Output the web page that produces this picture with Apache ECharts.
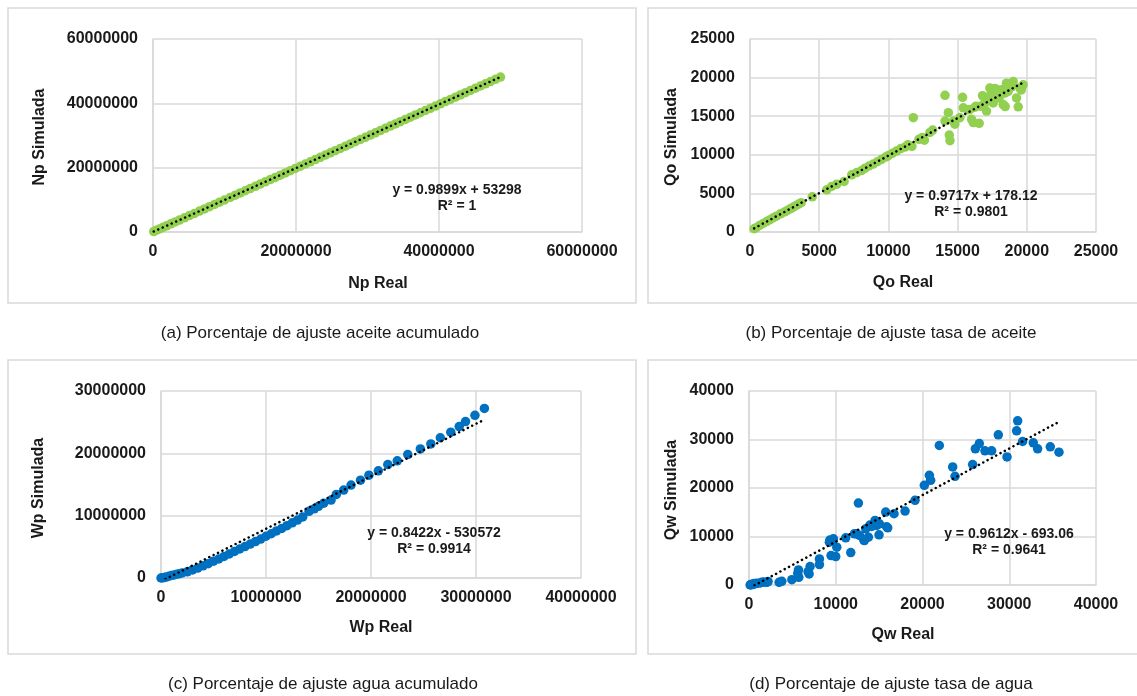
<!DOCTYPE html>
<html>
<head>
<meta charset="utf-8">
<script src="https://cdn.jsdelivr.net/npm/echarts/dist/echarts.min.js"></script>
<style>
html,body{margin:0;padding:0;background:#fff;}
#chart{width:1137px;height:696px;}
</style>
</head>
<body>
<div id="chart"></div>
<script>
// ---------- DATA ----------
// (a) Np Real vs Np Simulada
const npReal = [100000,500000,900000,1400000,1900000,2500000,3100000,3700000,4400000,5100000,
5800000,6500000,7200000,7900000,8600000,9300000,10000000,10800000,11500000,12200000,
12900000,13600000,14300000,15000000,15700000,16400000,17100000,17800000,18500000,19200000,
19900000,20600000,21300000,22000000,22700000,23400000,24100000,24800000,25500000,26200000,
26900000,27600000,28300000,29000000,29700000,30400000,31100000,31800000,32500000,33200000,
33900000,34600000,35300000,36000000,36700000,37400000,38100000,38800000,39500000,40200000,
40900000,41600000,42300000,43000000,43700000,44400000,45100000,45800000,46500000,47200000,
47900000,48600000];
const npSim = [150000,550000,940000,1440000,1930000,2530000,3120000,3720000,4410000,5100000,
5790000,6490000,7180000,7870000,8570000,9260000,9950000,10740000,11440000,12130000,
12820000,13510000,14210000,14900000,15590000,16290000,16980000,17670000,18370000,19060000,
19750000,20440000,21140000,21830000,22520000,23220000,23910000,24600000,25290000,25990000,
26680000,27370000,28070000,28760000,29450000,30140000,30840000,31530000,32220000,32920000,
33610000,34300000,34990000,35690000,36380000,37070000,37770000,38460000,39150000,39850000,
40540000,41230000,41920000,42620000,43310000,44000000,44700000,45390000,46080000,46780000,
47470000,48160000];

// (b) Qo Real vs Qo Simulada
const qoReal = [300,450,700,950,1200,1450,1700,1900,2200,2500,2700,2900,3100,3300,3500,3700,
4500,5540,5900,6270,6800,7350,7710,8070,8300,8600,8900,9200,9500,9800,10000,10300,10600,10900,
11200,11400,11700,12200,12450,12600,13000,13200,
11800,14090,14330,14090,14400,14450,14690,14800,15170,15360,15410,15890,16010,16130,16320,16560,
16660,16800,16970,17090,17330,17450,17570,17810,18000,18170,18290,18410,18530,18650,19020,19260,
19380,19500,19740,17700,18900,19600,16900,17350,18440,15780,16270];
const qoSim = [420,560,850,1100,1350,1600,1850,2050,2350,2600,2800,3000,3200,3400,3600,3800,
4550,5470,5900,6200,6550,7400,7700,7970,8250,8550,8800,9100,9400,9700,9900,10200,10500,10800,
11000,11300,11100,12000,12250,11900,12900,13200,
14810,17700,15450,14380,12550,11830,14380,13960,14810,17450,16090,15870,14600,14170,16300,14080,
16300,17660,16720,15660,18640,18000,16720,18430,17360,18430,16510,18000,19280,18210,19490,17360,
16210,18640,19060,18600,18800,18400,17500,17100,16250,15820,16160];

// (c) Wp Real vs Wp Simulada
const wpReal = [0,150000,300000,500000,750000,1000000,1250000,1500000,1750000,2000000,2500000,3000000,
3500000,4000000,4500000,5000000,5500000,6000000,6500000,7000000,7500000,8000000,8500000,9000000,
9500000,10000000,10500000,11000000,11500000,12000000,12500000,13000000,13500000,14100000,14600000,
15000000,15500000,16200000,16700000,17400000,18100000,19000000,19800000,20700000,21600000,22500000,
23500000,24700000,25700000,26600000,27600000,28400000,29000000,29900000,30800000];
const wpSim = [0,30000,80000,150000,280000,400000,500000,600000,700000,800000,1000000,1300000,
1600000,1950000,2300000,2700000,3050000,3450000,3850000,4250000,4650000,5050000,5450000,5850000,
6250000,6700000,7100000,7550000,7950000,8400000,8850000,9300000,9800000,10700000,11100000,
11500000,12000000,12500000,13400000,14100000,14900000,15700000,16500000,17200000,18200000,18800000,
19800000,20700000,21500000,22500000,23400000,24300000,25100000,26100000,27200000];

// (d) Qw Real vs Qw Simulada
const qwReal = [130,330,520,710,900,1280,1480,2050,3470,3780,4940,5740,5620,5700,6930,7040,6810,
8120,8120,9460,10000,9270,9730,10120,11150,11730,12150,12420,12730,12610,13300,13760,13460,14150,
14530,14720,14990,15030,15760,15990,16720,17990,19140,20210,20790,20940,21940,23480,23750,25780,
26090,26550,27200,27970,28740,29740,30850,30970,31540,32770,33270,34730,35730,200,400,600,1700,2200,
9320,13240,13940,15860];
const qwSim = [0,70,200,280,345,410,550,550,550,760,1100,1590,2410,3100,2280,3790,2740,
4210,5380,6070,5860,8830,9520,7790,9720,6690,10550,10550,10210,16900,9170,9860,11590,12070,
13310,12280,10340,12620,15040,11790,14690,15240,17450,20550,22620,21590,28760,24350,22410,24830,
28070,29170,27660,27660,30970,26410,31790,33860,29590,29310,28070,28480,27380,100,150,300,600,700,
9260,9260,12350,12010];

// Trendline coefficients [slope, intercept]
const trendA = [0.9899, 53298];
const trendB = [0.9717, 178.12];
const trendC = [0.8422, -530572];
const trendD = [0.9612, -693.06];

// Labels
const eqA = ['y = 0.9899x + 53298', 'R² = 1'];
const eqB = ['y = 0.9717x + 178.12', 'R² = 0.9801'];
const eqC = ['y = 0.8422x - 530572', 'R² = 0.9914'];
const eqD = ['y = 0.9612x - 693.06', 'R² = 0.9641'];
const captions = ['(a) Porcentaje de ajuste aceite acumulado', '(b) Porcentaje de ajuste tasa de aceite',
                  '(c) Porcentaje de ajuste agua acumulado', '(d) Porcentaje de ajuste tasa de agua'];
const xNames = ['Np Real', 'Qo Real', 'Wp Real', 'Qw Real'];
const yNames = ['Np Simulada', 'Qo Simulada', 'Wp Simulada', 'Qw Simulada'];
const xMax = [60000000, 25000, 40000000, 40000];
const xStep = [20000000, 5000, 10000000, 10000];
const yMax = [60000000, 25000, 30000000, 40000];
const yStep = [20000000, 5000, 10000000, 10000];

// ---------- CHART ----------
const FONT = "'Liberation Sans', Arial, Helvetica, sans-serif";
const GREEN = '#92D050', BLUE = '#0070C0', GRID = '#d9d9d9', TXT = '#1a1a1a';

const grids = [
  {left:153, top:39, width:429, height:193},
  {left:750, top:39, width:346, height:193},
  {left:161, top:391, width:420, height:187},
  {left:749, top:391, width:347, height:194}
];

function zip(a, b){ return a.map((v,i)=>[v, b[i]]); }
function trend(coef, xs){
  const lo = Math.min(...xs), hi = Math.max(...xs);
  return [[lo, coef[0]*lo + coef[1]], [hi, coef[0]*hi + coef[1]]];
}

const xAxes = [], yAxes = [];
for (let i = 0; i < 4; i++) {
  xAxes.push({
    type:'value', gridIndex:i, min:0, max:xMax[i], interval:xStep[i],
    axisLine:{show:true, lineStyle:{color:GRID, width:1.5}},
    axisTick:{show:false},
    splitLine:{show:true, lineStyle:{color:GRID, width:1.5}},
    axisLabel:{color:TXT, fontFamily:FONT, fontWeight:'bold', fontSize:16, margin:12, formatter:v=>String(v)}
  });
  yAxes.push({
    type:'value', gridIndex:i, min:0, max:yMax[i], interval:yStep[i],
    axisLine:{show:true, lineStyle:{color:GRID, width:1.5}},
    axisTick:{show:false},
    splitLine:{show:true, lineStyle:{color:GRID, width:1.5}},
    axisLabel:{color:TXT, fontFamily:FONT, fontWeight:'bold', fontSize:16, margin:15, formatter:v=>String(v)}
  });
}

const dotted = {color:'#000', width:2.5, type:[0.1, 4.8], cap:'round'};
const scatterData = [zip(npReal, npSim), zip(qoReal, qoSim), zip(wpReal, wpSim), zip(qwReal, qwSim)];
const trends = [trend(trendA, npReal), trend(trendB, qoReal), trend(trendC, wpReal), trend(trendD, qwReal)];
const colors = [GREEN, GREEN, BLUE, BLUE];
const sizes = [9.5, 9.5, 9.5, 9.5];

const series = [];
for (let i = 0; i < 4; i++) {
  series.push({type:'scatter', xAxisIndex:i, yAxisIndex:i, data:scatterData[i],
    symbolSize:sizes[i], itemStyle:{color:colors[i], opacity:1}, z:2});
  series.push({type:'line', xAxisIndex:i, yAxisIndex:i, data:trends[i], symbol:'none',
    lineStyle:dotted, z:3, clip:true});
}

// Graphic: panel borders, captions, axis titles, equations
const panels = [[8,8,628,295],[648,8,495,295],[8,360,628,294],[648,360,495,294]];
const capPos = [[320,333],[891,333],[323,684],[891,684]];
const xNamePos = [[378,284],[903,283],[381,628],[903,635]];
const yNamePos = [[40,137],[672,137],[39,488],[672,490]];
const eqPos = [[457,190],[971,196],[434,533],[1009,534]];
const eqs = [eqA, eqB, eqC, eqD];

const graphic = [];
for (let i = 0; i < 4; i++) {
  const p = panels[i];
  graphic.push({type:'rect', shape:{x:p[0], y:p[1], width:p[2], height:p[3]},
    style:{fill:'none', stroke:GRID, lineWidth:1.5}, z:-1, silent:true});
  graphic.push({type:'text', x:capPos[i][0], y:capPos[i][1],
    style:{text:captions[i], font:'17px ' + FONT, fill:TXT, textAlign:'center', textVerticalAlign:'middle'}});
  graphic.push({type:'text', x:xNamePos[i][0], y:xNamePos[i][1],
    style:{text:xNames[i], font:'bold 16px ' + FONT, fill:TXT, textAlign:'center', textVerticalAlign:'middle'}});
  graphic.push({type:'text', x:yNamePos[i][0], y:yNamePos[i][1], rotation:Math.PI/2,
    style:{text:yNames[i], font:'bold 16px ' + FONT, fill:TXT, textAlign:'center', textVerticalAlign:'middle'}});
  graphic.push({type:'text', x:eqPos[i][0], y:eqPos[i][1],
    style:{text:eqs[i][0], font:'bold 14px ' + FONT, fill:TXT, textAlign:'center', textVerticalAlign:'middle'}, z:10});
  graphic.push({type:'text', x:eqPos[i][0], y:eqPos[i][1] + 16,
    style:{text:eqs[i][1], font:'bold 14px ' + FONT, fill:TXT, textAlign:'center', textVerticalAlign:'middle'}, z:10});
}

const chart = echarts.init(document.getElementById('chart'), null, {renderer:'canvas'});
chart.setOption({
  animation:false,
  backgroundColor:'#fff',
  grid:grids,
  xAxis:xAxes,
  yAxis:yAxes,
  series:series,
  graphic:graphic
});
</script>
</body>
</html>
